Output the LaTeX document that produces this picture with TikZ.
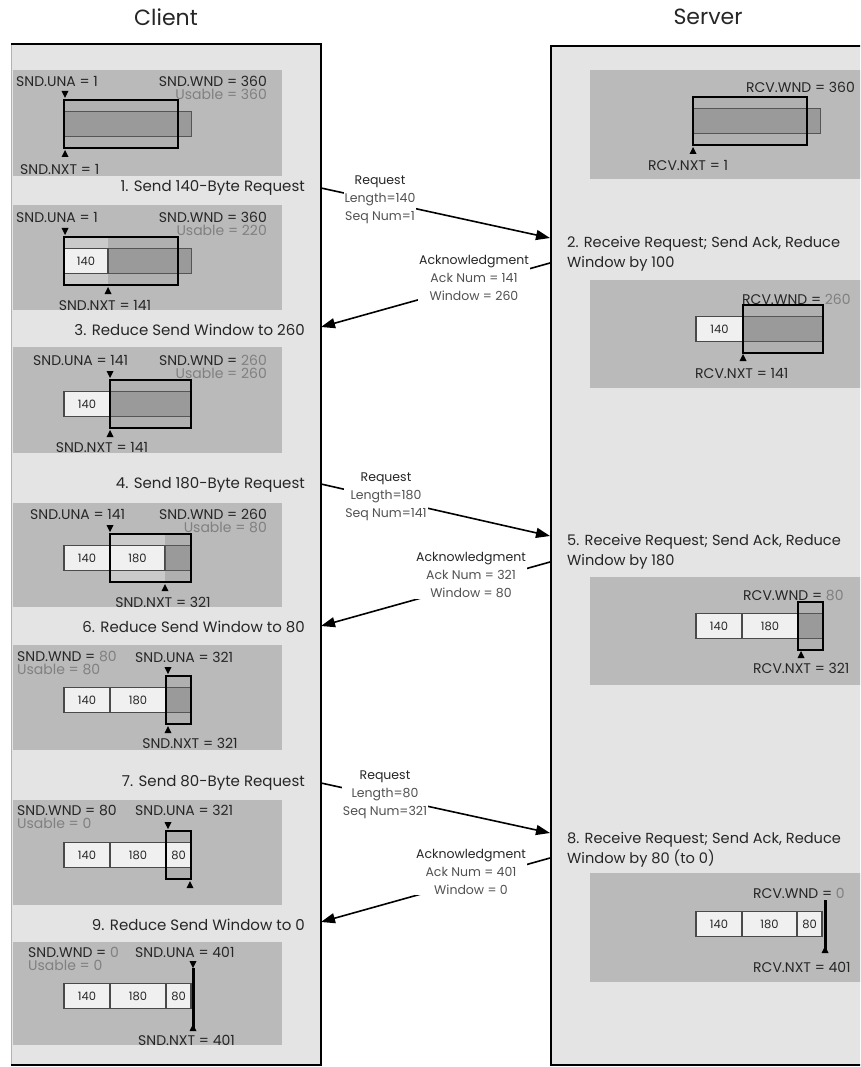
\documentclass[tikz,border=0pt]{standalone}
\usepackage{fontspec}
\setmainfont{Poppins}
\usetikzlibrary{arrows.meta}
\definecolor{boxbg}{HTML}{E4E4E4}
\definecolor{panelc}{HTML}{BABABA}
\definecolor{winc}{HTML}{B0B0B0}
\definecolor{winlight}{HTML}{CACACA}
\definecolor{barc}{HTML}{9A9A9A}
\definecolor{bared}{HTML}{555555}
\definecolor{cellc}{HTML}{F0F0F0}
\definecolor{celled}{HTML}{4A4A4A}
\definecolor{txt}{HTML}{262626}
\definecolor{graytxt}{HTML}{808080}
\tikzset{
  title/.style={font=\fontsize{22}{24}\selectfont, text=txt, inner sep=0pt},
  lbl/.style={font=\fontsize{14}{15}\selectfont, text=txt, inner sep=0pt},
  glbl/.style={lbl, text=graytxt},
  stepc/.style={font=\fontsize{15}{20}\selectfont, text=txt, inner sep=0pt},
  stepl/.style={font=\fontsize{14.6}{19.5}\selectfont, text=txt, inner sep=0pt},
  msgl/.style={font=\fontsize{12.5}{17.8}\selectfont, text=txt!80, fill=white, align=center, inner sep=1pt},
  cell/.style={draw=celled, fill=cellc, line width=1.2pt, inner sep=0pt, font=\fontsize{11.5}{12}\selectfont, text=txt, minimum height=25pt},
  frame/.style={draw=black, line width=2.3pt},
  barst/.style={fill=barc, draw=bared, line width=0.9pt},
  marker/.style={fill=black},
  msg/.style={draw=black, line width=1.6pt, -{Triangle[length=14pt,width=10pt]}},
}
\newcommand\Cell[5]{\node[cell, minimum width={(#3-#2)*1pt}] (#1) at ({(#2+#3)/2},#4) {#5};}
\newcommand\Win[4]{\fill[#4] (#1,#3-24) rectangle (#2,#3+24);}
\newcommand\Bar[3]{\filldraw[barst] (#1,#3-12.5) rectangle (#2,#3+12.5);}
\newcommand\Fr[3]{\draw[frame] (#1,#3-24) rectangle (#2,#3+24);}
\newcommand\Dn[2]{\fill[marker] (#1-3.5,#2-7) -- (#1+3.5,#2-7) -- (#1,#2) -- cycle;}
\newcommand\Up[2]{\fill[marker] (#1-3.5,#2+7) -- (#1+3.5,#2+7) -- (#1,#2) -- cycle;}
\begin{document}
\begin{tikzpicture}[x=1pt,y=-1pt]
\useasboundingbox (0,0) rectangle (860,1067);
\clip (0,0) rectangle (860,1067);
% titles
\node[title] (tc) at (166,17) {Client};
\node[title] (ts) at (708,17) {Server};
% boxes
\filldraw[fill=boxbg, draw=gray!60] (11,44) rectangle (321,1065);
\draw[line width=2pt] (11,44) -- (321,44) -- (321,1065) -- (11,1065);
\fill[boxbg] (551,46) rectangle (875,1065);
\draw[line width=2pt] (875,46) -- (551,46) -- (551,1065) -- (875,1065);
% client panels
\foreach \a/\b in {70/176,205/310,347/453,503/607,645/750,800/905,942/1045}
  \fill[panelc] (13,\a) rectangle (282,\b);
% server panels
\foreach \a/\b in {70/179,280/388,577/685,873/982}
  \fill[panelc] (590,\a) rectangle (862,\b);

% ---- P1
\Win{64}{178}{124}{winc}
\Bar{64}{191}{124}
\Fr{64}{178}{124}
\Dn{65}{98} \Up{65}{150}
\node[lbl,anchor=west] (p1una) at (16,81) {SND.UNA = 1};
\node[lbl,anchor=east] (p1wnd) at (267,81) {SND.WND = 360};
\node[glbl,anchor=east] (p1use) at (267,94) {Usable = 360};
\node[lbl,anchor=west] (p1nxt) at (20,169) {SND.NXT = 1};
\node[stepc,anchor=east] (st1) at (305,188) {1. Send 140-Byte Request};
% ---- P2
\Win{64}{108}{261}{winlight}
\Win{108}{178}{261}{winc}
\Bar{108}{191}{261}
\Cell{c2a}{64}{108}{261}{140}
\Fr{64}{178}{261}
\Dn{65}{235} \Up{108}{287}
\node[lbl,anchor=west] (p2una) at (16,217) {SND.UNA = 1};
\node[lbl,anchor=east] (p2wnd) at (267,217) {SND.WND = 360};
\node[glbl,anchor=east] (p2use) at (267,230) {Usable = 220};
\node[lbl] (p2nxt) at (105,305) {SND.NXT = 141};
\node[stepc,anchor=east] (st3) at (305,330) {3. Reduce Send Window to 260};
% ---- P3
\Cell{c3a}{64}{110}{404}{140}
\Win{110}{191}{404}{winc}
\Bar{110}{191}{404}
\Fr{110}{191}{404}
\Dn{110}{378} \Up{110}{430}
\node[lbl,anchor=west] (p3una) at (33,360) {SND.UNA = 141};
\node[lbl,anchor=east] (p3wnd) at (267,360) {SND.WND = \textcolor{graytxt}{260}};
\node[glbl,anchor=east] (p3use) at (267,373) {Usable = 260};
\node[lbl] (p3nxt) at (102,447) {SND.NXT = 141};
\node[stepc,anchor=east] (st4) at (305,485) {4. Send 180-Byte Request};
% ---- P4
\Win{110}{165}{558}{winlight}
\Win{165}{191}{558}{winc}
\Cell{c4a}{64}{110}{558}{140}
\Cell{c4b}{110}{165}{558}{180}
\Bar{165}{191}{558}
\Fr{110}{191}{558}
\Dn{110}{532} \Up{165}{584}
\node[lbl,anchor=west] (p4una) at (30,514) {SND.UNA = 141};
\node[lbl,anchor=east] (p4wnd) at (267,514) {SND.WND = 260};
\node[glbl,anchor=east] (p4use) at (267,527) {Usable = 80};
\node[lbl] (p4nxt) at (163,602) {SND.NXT = 321};
\node[stepc,anchor=east] (st6) at (305,627) {6. Reduce Send Window to 80};
% ---- P5
\Cell{c5a}{64}{110}{700}{140}
\Cell{c5b}{110}{166}{700}{180}
\Win{166}{191}{700}{winc}
\Bar{166}{191}{700}
\Fr{166}{191}{700}
\Dn{168}{674} \Up{168}{726}
\node[lbl,anchor=west] (p5wnd) at (17,656) {SND.WND = \textcolor{graytxt}{80}};
\node[glbl,anchor=west] (p5use) at (17,669) {Usable = 80};
\node[lbl,anchor=west] (p5una) at (135,657) {SND.UNA = 321};
\node[lbl] (p5nxt) at (190,743) {SND.NXT = 321};
\node[stepc,anchor=east] (st7) at (305,783) {7. Send 80-Byte Request};
% ---- P6
\Win{166}{191}{855}{winc}
\Cell{c6a}{64}{110}{855}{140}
\Cell{c6b}{110}{166}{855}{180}
\Cell{c6c}{166}{191}{855}{80}
\Fr{166}{191}{855}
\Dn{168}{829} \Up{190}{881}
\node[lbl,anchor=west] (p6wnd) at (17,810) {SND.WND = 80};
\node[glbl,anchor=west] (p6use) at (17,823) {Usable = 0};
\node[lbl,anchor=west] (p6una) at (135,810) {SND.UNA = 321};
\node[stepc,anchor=east] (st9) at (305,925) {9. Reduce Send Window to 0};
% ---- P7
\Cell{c7a}{64}{110}{996}{140}
\Cell{c7b}{110}{166}{996}{180}
\Cell{c7c}{166}{191}{996}{80}
\draw[line width=3pt] (193,968) -- (193,1030);
\Dn{193}{968} \Up{193}{1024}
\node[lbl,anchor=west] (p7wnd) at (28,952) {SND.WND = \textcolor{graytxt}{0}};
\node[glbl,anchor=west] (p7use) at (28,965) {Usable = 0};
\node[lbl,anchor=west] (p7una) at (135,952) {SND.UNA = 401};
\node[lbl,anchor=west] (p7nxt) at (138,1040) {SND.NXT = 401};

% ---- S1
\Win{693}{807}{121}{winc}
\Bar{693}{820}{121}
\Fr{693}{807}{121}
\Up{693}{147}
\node[lbl,anchor=east] (s1wnd) at (855,87) {RCV.WND = 360};
\node[lbl,anchor=west] (s1nxt) at (648,165) {RCV.NXT = 1};
\node[stepl,anchor=west,align=left] (st2) at (567,254) {2. Receive Request; Send Ack, Reduce\\Window by 100};
% ---- S2
\Cell{s2a}{696}{743}{329}{140}
\Win{743}{823}{329}{winc}
\Bar{743}{823}{329}
\Fr{743}{823}{329}
\Up{743}{354}
\node[lbl,anchor=west] (s2wnd) at (742,299) {RCV.WND = \textcolor{graytxt}{260}};
\node[lbl,anchor=west] (s2nxt) at (695,373) {RCV.NXT = 141};
\node[stepl,anchor=west,align=left] (st5) at (567,552) {5. Receive Request; Send Ack, Reduce\\Window by 180};
% ---- S3
\Cell{s3a}{696}{742}{626}{140}
\Cell{s3b}{742}{798}{626}{180}
\Win{798}{823}{626}{winc}
\Bar{798}{823}{626}
\Fr{798}{823}{626}
\Up{801}{651}
\node[lbl,anchor=west] (s3wnd) at (743,595) {RCV.WND = \textcolor{graytxt}{80}};
\node[lbl,anchor=west] (s3nxt) at (753,668) {RCV.NXT = 321};
\node[stepl,anchor=west,align=left] (st8) at (567,850) {8. Receive Request; Send Ack, Reduce\\Window by 80 (to 0)};
% ---- S4
\Cell{s4a}{696}{742}{924}{140}
\Cell{s4b}{742}{797}{924}{180}
\Cell{s4c}{797}{822}{924}{80}
\draw[line width=3pt] (825,900) -- (825,952);
\Up{825}{946}
\node[lbl,anchor=west] (s4wnd) at (753,893) {RCV.WND = \textcolor{graytxt}{0}};
\node[lbl,anchor=west] (s4nxt) at (753,967) {RCV.NXT = 401};

% ---- messages
\coordinate (q1a) at (321,188); \coordinate (q1b) at (550,238);
\coordinate (a1a) at (550,263); \coordinate (a1b) at (321,327);
\coordinate (q2a) at (321,484); \coordinate (q2b) at (550,536);
\coordinate (a2a) at (550,562); \coordinate (a2b) at (321,626);
\coordinate (q3a) at (321,783); \coordinate (q3b) at (550,833);
\coordinate (a3a) at (550,858); \coordinate (a3b) at (321,922);
\draw[msg] (q1a) -- (q1b);
\draw[msg] (a1a) -- (a1b);
\draw[msg] (q2a) -- (q2b);
\draw[msg] (a2a) -- (a2b);
\draw[msg] (q3a) -- (q3b);
\draw[msg] (a3a) -- (a3b);
\node[msgl] (m1) at (380,200) {\textcolor{txt}{Request}\\Length=140\\Seq Num=1};
\node[msgl] (m2) at (474,278) {\textcolor{txt}{Acknowledgment}\\Ack Num = 141\\Window = 260};
\node[msgl] (m3) at (386,497) {\textcolor{txt}{Request}\\Length=180\\Seq Num=141};
\node[msgl] (m4) at (471,575) {\textcolor{txt}{Acknowledgment}\\Ack Num = 321\\Window = 80};
\node[msgl] (m5) at (385,795) {\textcolor{txt}{Request}\\Length=80\\Seq Num=321};
\node[msgl] (m6) at (471,872) {\textcolor{txt}{Acknowledgment}\\Ack Num = 401\\Window = 0};
\end{tikzpicture}
\end{document}
